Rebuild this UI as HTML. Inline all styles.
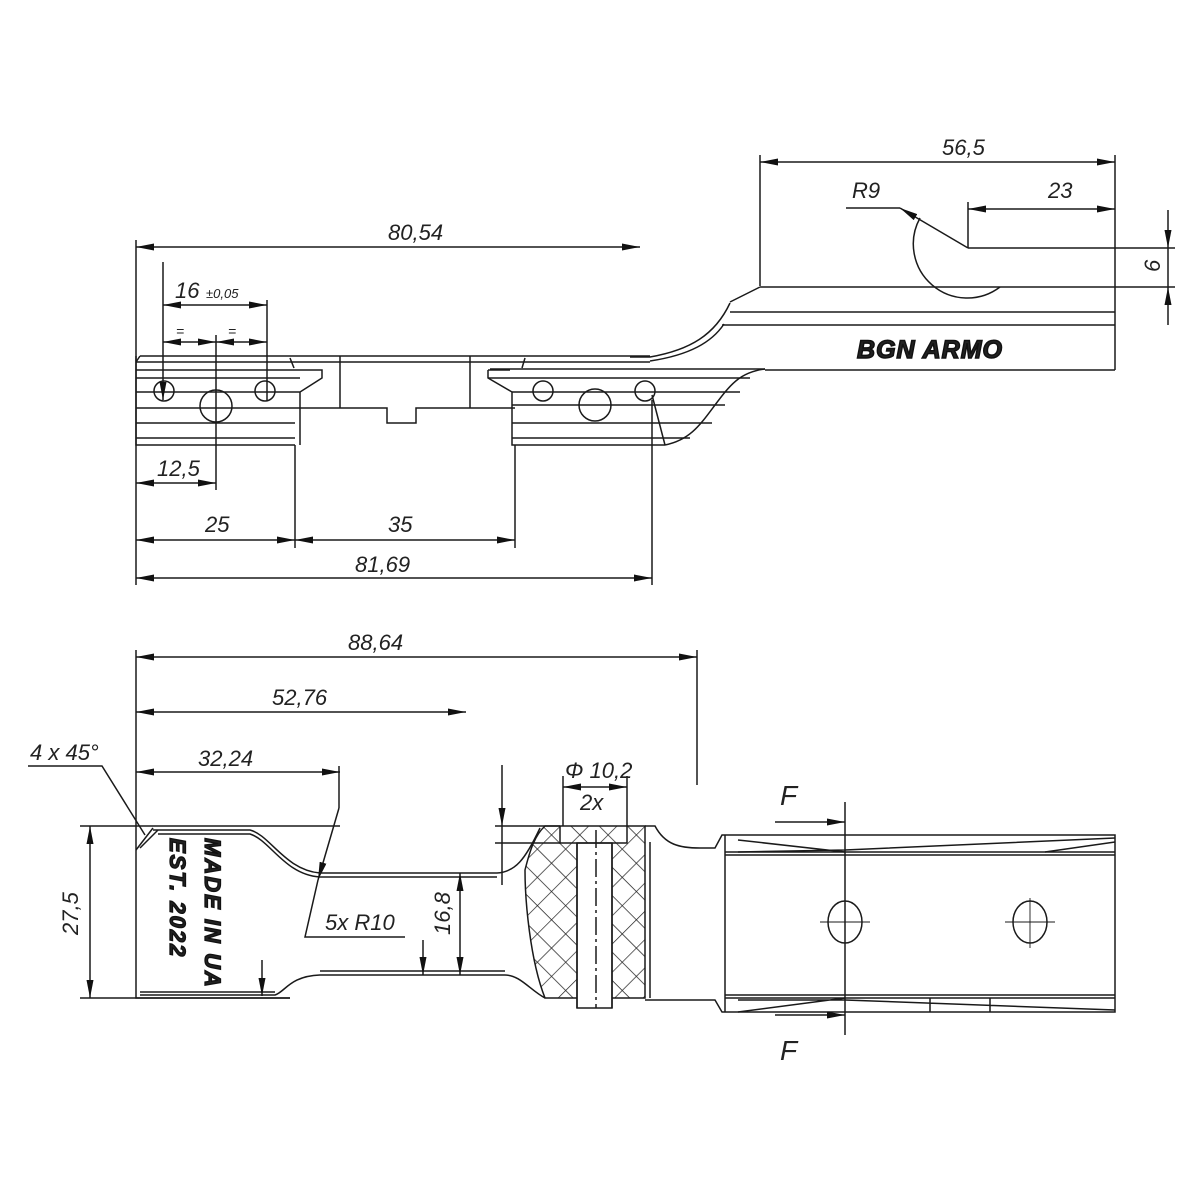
<!DOCTYPE html>
<html><head><meta charset="utf-8"><style>
html,body{margin:0;padding:0;background:#fff}
svg{display:block}
text{font-family:"Liberation Sans",sans-serif;font-style:italic;fill:#222}
</style></head><body>
<svg width="1200" height="1200" viewBox="0 0 1200 1200" xmlns="http://www.w3.org/2000/svg">
<defs>
<marker id="a" viewBox="0 0 18 7" refX="18" refY="3.5" markerWidth="18" markerHeight="7" orient="auto" markerUnits="userSpaceOnUse"><path d="M0,0L18,3.5L0,7z" fill="#111"/></marker>
<marker id="b" viewBox="0 0 18 7" refX="0" refY="3.5" markerWidth="18" markerHeight="7" orient="auto" markerUnits="userSpaceOnUse"><path d="M18,0L0,3.5L18,7z" fill="#111"/></marker>
<pattern id="h" width="20" height="20" patternUnits="userSpaceOnUse" patternTransform="rotate(45)"><path d="M0,0V20M0,0H20" stroke="#222" stroke-width="1.4"/></pattern>
</defs>
<g fill="none" stroke="#1a1a1a" stroke-width="1.5">
<line x1="136" y1="240" x2="136" y2="585"/>
<line x1="136" y1="247" x2="640" y2="247" marker-start="url(#b)" marker-end="url(#a)"/>
<line x1="760" y1="155" x2="760" y2="286"/>
<line x1="1115" y1="155" x2="1115" y2="370"/>
<line x1="760" y1="162" x2="1115" y2="162" marker-start="url(#b)" marker-end="url(#a)"/>
<line x1="968" y1="202" x2="968" y2="248"/>
<line x1="968" y1="209" x2="1115" y2="209" marker-start="url(#b)" marker-end="url(#a)"/>
<polyline points="846,208 900,208"/>
<line x1="900" y1="208" x2="968" y2="248" marker-start="url(#b)"/>
<path d="M920,218 A54,54 0 0 0 1000,287"/>
<line x1="968" y1="248" x2="1175" y2="248"/>
<line x1="1115" y1="287" x2="1175" y2="287"/>
<line x1="1168" y1="210" x2="1168" y2="248" marker-end="url(#a)"/>
<line x1="1168" y1="325" x2="1168" y2="287" marker-end="url(#a)"/>
<line x1="1168" y1="248" x2="1168" y2="287"/>
<path d="M760,287 H1115 M730,302 L760,287" />
<path d="M730,312 H1115 M722,325 H1115 M765,370 H1115"/>
<path d="M630,357 H650 C690,350 715,335 730,303"/>
<path d="M650,361 C690,355 712,342 724,324"/>
<path d="M490,369 H765"/>
<path d="M765,369 C740,372 730,385 715,405 C700,425 690,440 665,445"/>
<path d="M140,356 H650 M136,362 H650 M136,362 L140,356"/>
<path d="M136,356 V445 H295"/>
<path d="M136,370 H322 V378 L300,392 V445 M136,378 H300 M136,392 H300 M136,408 H295 M136,423 H295 M136,438 H295"/>
<path d="M290,358 L294,368"/>
<path d="M340,356 V408 M470,356 V408 M295,408 H387 V423 H416 V408 H515"/>
<path d="M488,370 V378 L512,392 V445 H665 M488,370 H510"/>
<path d="M488,378 H750 M512,392 H740 M512,405 H725 M512,423 H712 M512,438 H690"/>
<path d="M525,358 L522,368"/>
<circle cx="164" cy="391" r="10"/><circle cx="265" cy="391" r="10"/><circle cx="216" cy="406" r="16"/>
<circle cx="543" cy="391" r="10"/><circle cx="645" cy="391" r="10"/><circle cx="595" cy="405" r="16"/>
<path d="M652,395 L665,445" />
<line x1="163" y1="262" x2="163" y2="400" marker-end="url(#a)"/>
<line x1="267" y1="300" x2="267" y2="400"/>
<line x1="216" y1="335" x2="216" y2="490"/>
<line x1="163" y1="305" x2="267" y2="305" marker-start="url(#b)" marker-end="url(#a)"/>
<line x1="163" y1="342" x2="216" y2="342" marker-start="url(#b)" marker-end="url(#a)"/>
<line x1="216" y1="342" x2="267" y2="342" marker-start="url(#b)" marker-end="url(#a)"/>
<line x1="136" y1="483" x2="216" y2="483" marker-start="url(#b)" marker-end="url(#a)"/>
<line x1="295" y1="445" x2="295" y2="548"/>
<line x1="515" y1="445" x2="515" y2="548"/>
<line x1="652" y1="400" x2="652" y2="585"/>
<line x1="136" y1="540" x2="295" y2="540" marker-start="url(#b)" marker-end="url(#a)"/>
<line x1="295" y1="540" x2="515" y2="540" marker-start="url(#b)" marker-end="url(#a)"/>
<line x1="136" y1="578" x2="652" y2="578" marker-start="url(#b)" marker-end="url(#a)"/>

<line x1="136" y1="650" x2="136" y2="826"/>
<line x1="697" y1="650" x2="697" y2="785"/>
<line x1="136" y1="657" x2="697" y2="657" marker-start="url(#b)" marker-end="url(#a)"/>
<line x1="136" y1="712" x2="466" y2="712" marker-start="url(#b)" marker-end="url(#a)"/>
<line x1="136" y1="772" x2="340" y2="772" marker-start="url(#b)" marker-end="url(#a)"/>
<line x1="339" y1="766" x2="339" y2="808"/>
<polyline points="28,766 102,766 145,835"/>
<line x1="339" y1="808" x2="318" y2="880" marker-end="url(#a)"/>
<polyline points="318,880 305,937 405,937"/>
<line x1="80" y1="826" x2="340" y2="826"/>
<line x1="80" y1="998" x2="290" y2="998"/>
<line x1="90" y1="826" x2="90" y2="998" marker-start="url(#b)" marker-end="url(#a)"/>
<path d="M136,826 V998 H290"/>
<path d="M136,850 L153,828 M140,848 L158,830"/>
<path d="M153,830 H250 C270,835 285,870 320,873 H497 C515,872 525,860 540,828"/>
<path d="M158,834 H250 C270,840 285,875 320,877 H497"/>
<path d="M140,995 H275 C285,992 290,976 320,975 H505 C520,975 530,990 545,998"/>
<path d="M140,992 H275 M320,971 H505"/>
<line x1="460" y1="873" x2="460" y2="975" marker-start="url(#b)" marker-end="url(#a)"/>
<line x1="262" y1="960" x2="262" y2="996" marker-end="url(#a)"/>
<line x1="423" y1="940" x2="423" y2="975" marker-end="url(#a)"/>
<line x1="502" y1="765" x2="502" y2="826" marker-end="url(#a)"/>
<line x1="502" y1="826" x2="502" y2="885"/>
<line x1="495" y1="826" x2="560" y2="826"/>
<line x1="495" y1="843" x2="560" y2="843"/>
<path d="M545,826 H645 V998 H545 C530,960 525,900 525,870 C530,850 535,835 545,826Z" fill="url(#h)"/>
<rect x="577" y="843" width="35" height="165" fill="#fff"/>
<path d="M577,843 V1008 M612,843 V1008 M560,826 V843 H627 V826"/>
<line x1="596" y1="830" x2="596" y2="1008" stroke-dasharray="18,4,3,4"/>
<line x1="563" y1="776" x2="563" y2="826"/><line x1="627" y1="776" x2="627" y2="826"/>
<line x1="563" y1="787" x2="627" y2="787" marker-start="url(#b)" marker-end="url(#a)"/>
<path d="M645,826 H655 C665,845 680,848 700,848 H715 L722,835 H1115 V1012 H722 L715,1000 H645"/>
<path d="M650,842 V998"/>
<path d="M725,835 V1012 M725,855 H1115 M725,995 H1115 M725,852 H1115 M725,998 H1115"/>
<path d="M738,852 L845,850 L1115,838 M738,840 L845,852 M1045,852 L1115,842 M738,1000 L845,1000 L1115,1010 M738,1012 L845,998 M930,998 V1012 M990,998 V1012"/>
<line x1="845" y1="802" x2="845" y2="1035"/>
<line x1="775" y1="822" x2="845" y2="822" marker-end="url(#a)"/>
<line x1="775" y1="1015" x2="845" y2="1015" marker-end="url(#a)"/>
<ellipse cx="845" cy="922" rx="17" ry="21"/><ellipse cx="1030" cy="922" rx="17" ry="21"/>
<path d="M820,922 H870 M1005,922 H1055 M1030,898 V948" stroke-width="0.9"/>
</g>
<g font-size="22">
<text x="388" y="240">80,54</text>
<text x="942" y="155">56,5</text>
<text x="1048" y="198">23</text>
<text x="852" y="198">R9</text>
<text x="175" y="298">16</text><text x="206" y="298" font-size="13">±0,05</text>
<text x="176" y="336" font-size="14">=</text><text x="228" y="336" font-size="14">=</text>
<text x="157" y="476">12,5</text>
<text x="205" y="532">25</text>
<text x="388" y="532">35</text>
<text x="355" y="572">81,69</text>
<text x="348" y="650">88,64</text>
<text x="272" y="705">52,76</text>
<text x="198" y="766">32,24</text>
<text x="30" y="760">4 x 45°</text>
<text x="565" y="778">Φ 10,2</text>
<text x="580" y="810">2x</text>
<text x="325" y="930">5x R10</text>
<text x="780" y="805" font-size="28">F</text>
<text x="780" y="1060" font-size="28">F</text>
<text transform="translate(1160,272) rotate(-90)">6</text>
<text transform="translate(78,935) rotate(-90)">27,5</text>
<text transform="translate(450,935) rotate(-90)">16,8</text>
</g>
<text x="930" y="358" font-size="25" font-weight="bold" font-style="normal" text-anchor="middle" fill="#fff" stroke="#111" stroke-width="1.5" style="letter-spacing:1px">BGN ARMO</text>
<g font-weight="bold" font-style="normal" font-size="22" fill="#fff" stroke="#111" stroke-width="1.3">
<text transform="translate(205,838) rotate(90)" style="letter-spacing:2px">MADE IN UA</text>
<text transform="translate(170,838) rotate(90)" style="letter-spacing:2px">EST.  2022</text>
</g>
</svg>
</body></html>
